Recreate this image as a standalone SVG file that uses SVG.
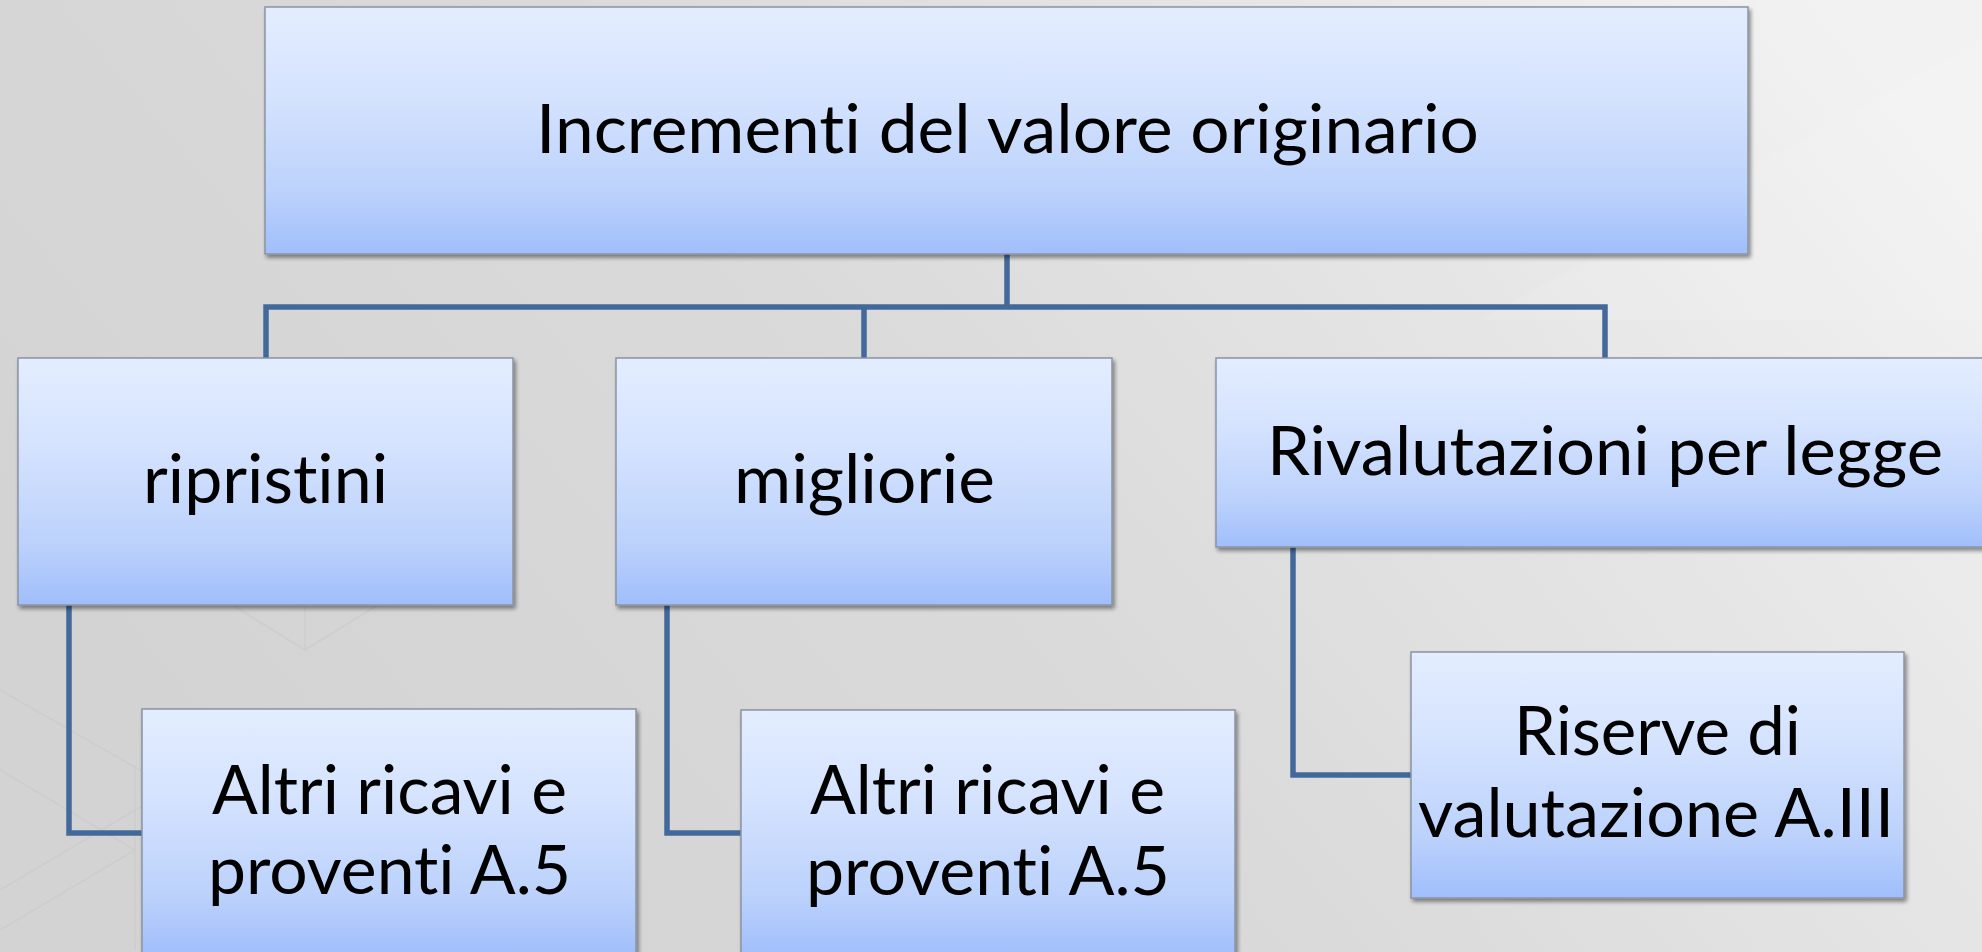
<svg xmlns="http://www.w3.org/2000/svg" width="1982" height="952" viewBox="0 0 1982 952">
  <defs>
    <linearGradient id="bg" x1="0" y1="0.6" x2="1" y2="0.2">
      <stop offset="0" stop-color="#d3d3d3"/>
      <stop offset="0.45" stop-color="#dadada"/>
      <stop offset="0.75" stop-color="#e6e6e6"/>
      <stop offset="1" stop-color="#f2f2f2"/>
    </linearGradient>
    <linearGradient id="boxfill" x1="0" y1="0" x2="0" y2="1">
      <stop offset="0" stop-color="#e3edff"/>
      <stop offset="0.35" stop-color="#d5e3fe"/>
      <stop offset="0.75" stop-color="#bcd2fc"/>
      <stop offset="1" stop-color="#a0befb"/>
    </linearGradient>
    <filter id="shadow" x="-5%" y="-5%" width="110%" height="115%">
      <feGaussianBlur in="SourceAlpha" stdDeviation="2"/>
      <feOffset dx="2" dy="3" result="o"/>
      <feComponentTransfer><feFuncA type="linear" slope="0.45"/></feComponentTransfer>
      <feMerge><feMergeNode/><feMergeNode in="SourceGraphic"/></feMerge>
    </filter>
  </defs>
  <style>
    .box { fill: url(#boxfill); stroke: #8a94a3; stroke-width: 1.5; filter: url(#shadow); }
    .lbl { font-family: Lato, "Open Sans", "Liberation Sans", sans-serif; font-size: 67px; fill: #000; font-variant-ligatures: none; font-feature-settings: "liga" 0, "clig" 0; }
    .conn { fill: none; stroke: #43699b; stroke-width: 5.5; stroke-linejoin: miter; }
    .wm { fill: none; stroke: #c8c8c8; stroke-opacity: 0.5; stroke-width: 1.5; }
  </style>

  <rect x="0" y="0" width="1982" height="952" fill="url(#bg)"/>
  <g id="background-watermark">
    <path class="wm" d="M0 690 L175 790 L135 810 L0 890 M0 770 L135 850 L0 930 M135 765 V950"/>
    <path class="wm" d="M135 545 L305 650 L305 490 M305 650 L410 585"/>
    <path fill="#ffffff" fill-opacity="0.10" d="M1480 320 L1982 40 L1982 320 Z"/>
  </g>

  <g id="connectors">
    <path class="conn" d="M266 358 V307 H1605 V358"/>
    <path class="conn" d="M1007 254 V307"/>
    <path class="conn" d="M864 307 V358"/>
    <path class="conn" d="M69 605 V833 H143"/>
    <path class="conn" d="M667 605 V833 H741"/>
    <path class="conn" d="M1293 547 V775 H1411"/>
  </g>

  <g id="node-root">
    <rect class="box" x="265" y="7" width="1483" height="247"/>
    <text class="lbl" x="536" y="153" textLength="943" lengthAdjust="spacingAndGlyphs">Incrementi del valore originario</text>
  </g>

  <g id="node-ripristini">
    <rect class="box" x="18" y="358" width="495" height="247"/>
    <text class="lbl" x="143" y="503" textLength="245" lengthAdjust="spacingAndGlyphs">ripristini</text>
  </g>

  <g id="node-migliorie">
    <rect class="box" x="616" y="358" width="496" height="247"/>
    <text class="lbl" x="734" y="503" textLength="261" lengthAdjust="spacingAndGlyphs">migliorie</text>
  </g>

  <g id="node-rivalutazioni">
    <rect class="box" x="1216" y="358" width="778" height="189"/>
    <text class="lbl" x="1267" y="475" textLength="676" lengthAdjust="spacingAndGlyphs">Rivalutazioni per legge</text>
  </g>

  <g id="node-altri-1">
    <rect class="box" x="142" y="709" width="494" height="247"/>
    <text class="lbl" x="212" y="814" textLength="355" lengthAdjust="spacingAndGlyphs">Altri ricavi e</text>
    <text class="lbl" x="208" y="894" textLength="363" lengthAdjust="spacingAndGlyphs">proventi A.5</text>
  </g>

  <g id="node-altri-2">
    <rect class="box" x="741" y="710" width="494" height="247"/>
    <text class="lbl" x="810" y="814" textLength="355" lengthAdjust="spacingAndGlyphs">Altri ricavi e</text>
    <text class="lbl" x="806" y="895" textLength="364" lengthAdjust="spacingAndGlyphs">proventi A.5</text>
  </g>

  <g id="node-riserve">
    <rect class="box" x="1411" y="652" width="493" height="246"/>
    <text class="lbl" x="1514" y="755" textLength="287" lengthAdjust="spacingAndGlyphs">Riserve di</text>
    <text class="lbl" x="1418" y="837" textLength="476" lengthAdjust="spacingAndGlyphs">valutazione A.III</text>
  </g>
</svg>
